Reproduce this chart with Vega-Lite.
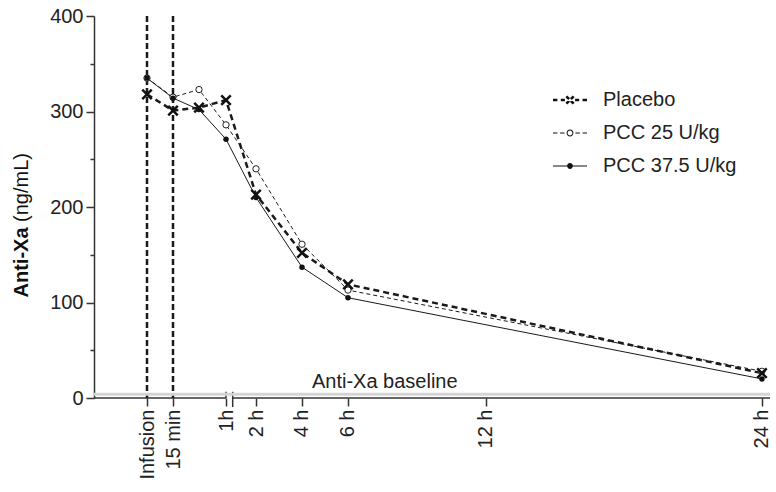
{
  "$schema": "https://vega.github.io/schema/vega-lite/v6.json",
  "width": 676,
  "height": 382,
  "autosize": "none",
  "padding": {"left": 94, "top": 16, "right": 6, "bottom": 94},
  "config": {"view": {"stroke": null}, "font": "Liberation Sans"},
  "datasets": {
    "main": [
      {"series": "Placebo", "t": 0, "v": 318},
      {"series": "Placebo", "t": 0.25, "v": 301},
      {"series": "Placebo", "t": 0.5, "v": 304},
      {"series": "Placebo", "t": 1, "v": 312},
      {"series": "Placebo", "t": 2, "v": 213},
      {"series": "Placebo", "t": 4, "v": 152},
      {"series": "Placebo", "t": 6, "v": 119},
      {"series": "Placebo", "t": 24, "v": 26},
      {"series": "PCC 25 U/kg", "t": 0, "v": 335},
      {"series": "PCC 25 U/kg", "t": 0.25, "v": 315},
      {"series": "PCC 25 U/kg", "t": 0.5, "v": 323},
      {"series": "PCC 25 U/kg", "t": 1, "v": 286},
      {"series": "PCC 25 U/kg", "t": 2, "v": 240},
      {"series": "PCC 25 U/kg", "t": 4, "v": 161},
      {"series": "PCC 25 U/kg", "t": 6, "v": 113},
      {"series": "PCC 25 U/kg", "t": 24, "v": 28},
      {"series": "PCC 37.5 U/kg", "t": 0, "v": 335},
      {"series": "PCC 37.5 U/kg", "t": 0.25, "v": 314},
      {"series": "PCC 37.5 U/kg", "t": 0.5, "v": 302},
      {"series": "PCC 37.5 U/kg", "t": 1, "v": 271},
      {"series": "PCC 37.5 U/kg", "t": 2, "v": 210},
      {"series": "PCC 37.5 U/kg", "t": 4, "v": 137},
      {"series": "PCC 37.5 U/kg", "t": 6, "v": 105},
      {"series": "PCC 37.5 U/kg", "t": 24, "v": 20}
    ],
    "events": [{"t": 0}, {"t": 0.25}]
  },
  "data": {"name": "main"},
  "layer": [
    {
      "encoding": {
        "x": {"field": "t", "type": "quantitative",
          "scale": {"domain": [-0.5, 0, 0.25, 0.5, 1, 2, 24.35], "range": [0, 53, 79, 105, 132, 162, 676], "nice": false, "zero": false},
          "axis": {"values": [0, 0.25, 1, 2, 4, 6, 12, 24],
            "labelExpr": "datum.value == 0 ? 'Infusion' : datum.value == 0.25 ? '15 min' : datum.value == 1 ? '1h' : datum.value + ' h'",
            "labelAngle": 270, "labelFontSize": 20, "labelColor": "#222", "labelPadding": 3,
            "labelFlush": false, "labelOverlap": false, "domain": false, "grid": false,
            "tickSize": 8, "tickColor": "#333", "tickWidth": 1.5, "title": null}},
        "y": {"field": "v", "type": "quantitative",
          "scale": {"domain": [0, 400], "nice": false},
          "axis": {"values": [0, 100, 200, 300, 400], "tickSize": 8, "labelFontSize": 20, "labelColor": "#222",
            "labelPadding": 3, "labelFlush": false, "domainColor": "#333", "domainWidth": 1.5,
            "tickColor": "#333", "tickWidth": 1.5, "grid": false,
            "title": "Anti-Xa", "titleFontWeight": "bold", "titleFontSize": 20, "titleColor": "#111",
            "titleAngle": 270, "titleAlign": "center", "titleBaseline": "middle", "titleX": -73, "titleY": 246}}
      },
      "layer": [
        {"transform": [{"filter": "datum.series == 'Placebo' && datum.t == 24"}],
         "mark": {"type": "text", "text": "Anti-Xa baseline", "fontSize": 20, "color": "#222", "align": "center", "baseline": "alphabetic", "dy": -6},
         "encoding": {"x": {"datum": 7.6}, "y": {"datum": 4}}},
        {"transform": [{"filter": "datum.series == 'Placebo' && datum.t == 24"}],
         "mark": {"type": "rule", "color": "#333", "strokeWidth": 1.5},
         "encoding": {"x": {"datum": -0.5}, "x2": {"datum": 1}, "y": {"datum": 0}}},
        {"transform": [{"filter": "datum.series == 'Placebo' && datum.t == 24"}],
         "mark": {"type": "rule", "color": "#333", "strokeWidth": 1.5},
         "encoding": {"x": {"datum": 1.223}, "x2": {"datum": 24.35}, "y": {"datum": 0}}},
        {"transform": [{"filter": "datum.series == 'Placebo' && datum.t == 24"}],
         "mark": {"type": "rule", "color": "#333", "strokeWidth": 1.5},
         "encoding": {"x": {"datum": 1}, "y": {"datum": 0}, "y2": {"datum": 6.5}}},
        {"transform": [{"filter": "datum.series == 'Placebo' && datum.t == 24"}],
         "mark": {"type": "rule", "color": "#333", "strokeWidth": 1.5},
         "encoding": {"x": {"datum": 1.223}, "y": {"datum": -9.5}, "y2": {"datum": 6.5}}},
        {"data": {"name": "events"},
         "mark": {"type": "rule", "strokeDash": [6, 3], "strokeWidth": 2.5, "color": "#1a1a1a"},
         "encoding": {"x": {"field": "t", "type": "quantitative"}, "y": null}},
        {"transform": [{"filter": "datum.series == 'PCC 37.5 U/kg'"}],
         "mark": {"type": "line", "color": "#1a1a1a", "strokeWidth": 1}},
        {"transform": [{"filter": "datum.series == 'PCC 25 U/kg'"}],
         "mark": {"type": "line", "color": "#1a1a1a", "strokeWidth": 1, "strokeDash": [4, 3]}},
        {"transform": [{"filter": "datum.series == 'Placebo'"}],
         "mark": {"type": "line", "color": "#1a1a1a", "strokeWidth": 2.5, "strokeDash": [6, 4]}},
        {"transform": [{"filter": "datum.series == 'PCC 25 U/kg'"}],
         "mark": {"type": "point", "shape": "circle", "size": 40, "filled": true, "fill": "white", "stroke": "#222", "strokeWidth": 1, "opacity": 1}},
        {"transform": [{"filter": "datum.series == 'PCC 37.5 U/kg'"}],
         "mark": {"type": "circle", "size": 30, "color": "#111", "opacity": 1}},
        {"transform": [{"filter": "datum.series == 'Placebo'"}],
         "mark": {"type": "point", "shape": "M-1,-1L1,1M-1,1L1,-1", "size": 90, "stroke": "#111", "strokeWidth": 2.5, "filled": false, "opacity": 1}},
        {"mark": {"type": "point", "filled": true, "color": "#111", "strokeWidth": 1, "size": 1156, "opacity": 0},
         "encoding": {
           "shape": {"field": "series", "type": "nominal",
             "scale": {"domain": ["Placebo", "PCC 25 U/kg", "PCC 37.5 U/kg"],
               "range": [
                 "M-1,-0.08H-0.74V0.08H-1Z M-0.54,-0.08H-0.3V0.08H-0.54Z M0.3,-0.08H0.54V0.08H0.3Z M0.74,-0.08H1V0.08H0.74Z M-0.27,-0.16L-0.16,-0.27L0.27,0.16L0.16,0.27Z M-0.27,0.16L-0.16,0.27L0.27,-0.16L0.16,-0.27Z",
                 "M-1,-0.03H-0.74V0.03H-1Z M-0.58,-0.03H-0.32V0.03H-0.58Z M0.32,-0.03H0.58V0.03H0.32Z M0.74,-0.03H1V0.03H0.74Z M0.2,0A0.2,0.2,0,1,1,-0.2,0A0.2,0.2,0,1,1,0.2,0Z M0.14,0A0.14,0.14,0,1,0,-0.14,0A0.14,0.14,0,1,0,0.14,0Z",
                 "M-1,-0.03H1V0.03H-1Z M0.17,0A0.17,0.17,0,1,1,-0.17,0A0.17,0.17,0,1,1,0.17,0Z"]},
             "legend": {"title": null, "orient": "none", "legendX": 459, "legendY": 67, "symbolSize": 1156, "symbolOpacity": 1,
               "labelFontSize": 20, "labelColor": "#222", "labelOffset": 16, "rowPadding": 6, "padding": 0,
               "symbolStrokeWidth": 0, "symbolFillColor": "#111", "labelLimit": 300}}}}
      ]
    },
    {
      "transform": [{"filter": "datum.series == 'Placebo' && datum.t == 24"}],
      "mark": {"type": "rule", "color": "#d4d4d4", "strokeWidth": 3},
      "encoding": {
        "y": {"datum": 4, "type": "quantitative",
          "scale": {"domain": [0, 400], "nice": false},
          "axis": {"orient": "left", "values": [50, 150, 250, 350], "tickSize": 4, "tickColor": "#333", "tickWidth": 1.5,
            "labels": false, "domain": false, "grid": false,
            "title": "(ng/mL)", "titleFontWeight": "normal", "titleFontSize": 20, "titleColor": "#111",
            "titleAngle": 270, "titleAlign": "center", "titleBaseline": "middle", "titleX": -73, "titleY": 171}}
      }
    }
  ],
  "resolve": {"scale": {"y": "independent"}}
}
